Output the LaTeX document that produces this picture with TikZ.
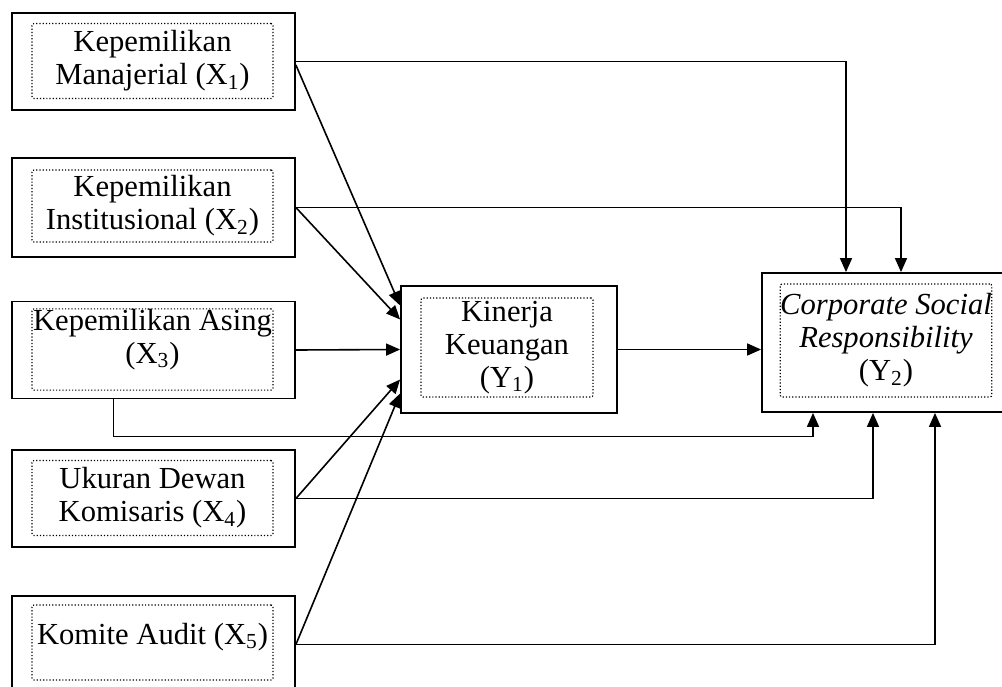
\documentclass[tikz,border=0pt]{standalone}
\usepackage{fontspec}
\setmainfont{Liberation Serif}
\usetikzlibrary{arrows.meta}
\begin{document}
\begin{tikzpicture}[x=0.5pt,y=-0.5pt,
  outbox/.style={draw, line width=0.9pt, minimum width=141.5pt, minimum height=48.5pt, inner sep=0pt},
  inbox/.style={draw, densely dotted, line width=0.6pt, rounded corners=1pt, minimum width=120.5pt, minimum height=37.5pt, inner sep=0pt, align=center, font=\fontsize{15.3}{16.5}\selectfont},
  link/.style={line width=0.8pt, -{Triangle[length=7pt,width=6pt]}}]
\useasboundingbox [fill=white] (0,0) rectangle (1002,686);
\node [outbox] (x1) at (153.5,61.5) {};
\node [inbox] (x1t) at (152.5,61) {Kepemilikan\\Manajerial (X\textsubscript{1})};
\node [outbox, minimum height=49.5pt] (x2) at (153.5,207.5) {};
\node [inbox, minimum height=36pt] (x2t) at (152.5,206) {Kepemilikan\\Institusional (X\textsubscript{2})};
\node [outbox] (x3) at (153.5,350) {};
\node [inbox] (x3t) at (152.5,349.5) {Kepemilikan Asing\\(X\textsubscript{3})\\[-3pt]};
\node [outbox] (x4) at (153.5,498.5) {};
\node [inbox] (x4t) at (152.5,498) {Ukuran Dewan\\Komisaris (X\textsubscript{4})};
\node [outbox] (x5) at (153.5,644.5) {};
\node [inbox] (x5t) at (152.5,642.5) {Komite Audit (X\textsubscript{5})\\[-8pt]};
\node [outbox, minimum width=108pt, minimum height=63.5pt] (kin) at (509,349.5) {};
\node [inbox, minimum width=86pt, minimum height=49.5pt] (kint) at (507,347.5) {Kinerja\\Keuangan\\(Y\textsubscript{1})};
\node [outbox, minimum width=124pt, minimum height=69.5pt] (csr) at (886,342.5) {};
\node [inbox, minimum width=104pt, minimum height=56.5pt] (csrt) at (886,340.5) {\textit{Corporate Social}\\\textit{Responsibility}\\(Y\textsubscript{2})};
\draw [link] (x1.east) -| ([xshift=-20pt]csr.north);
\draw [link] ([yshift=-1.75pt]x1.east) -- ([yshift=22pt]kin.west);
\draw [link] (x2.east) -| ([xshift=7.5pt]csr.north);
\draw [link] (x2.east) -- ([yshift=15pt]kin.west);
\draw [link] (x3.east) -- (kin.west);
\draw [link] ([xshift=-20pt]x3.south) -- ++(0,37) -| ([xshift=-36.5pt]csr.south);
\draw [link] (x4.east) -- ([yshift=-15pt]kin.west);
\draw [link] (x4.east) -| ([xshift=-6.5pt]csr.south);
\draw [link] (x5.east) -- ([yshift=-22pt]kin.west);
\draw [link] (x5.east) -| ([xshift=24.5pt]csr.south);
\draw [link] (kin.east) -- (kin.east -| csr.west);
\end{tikzpicture}
\end{document}
